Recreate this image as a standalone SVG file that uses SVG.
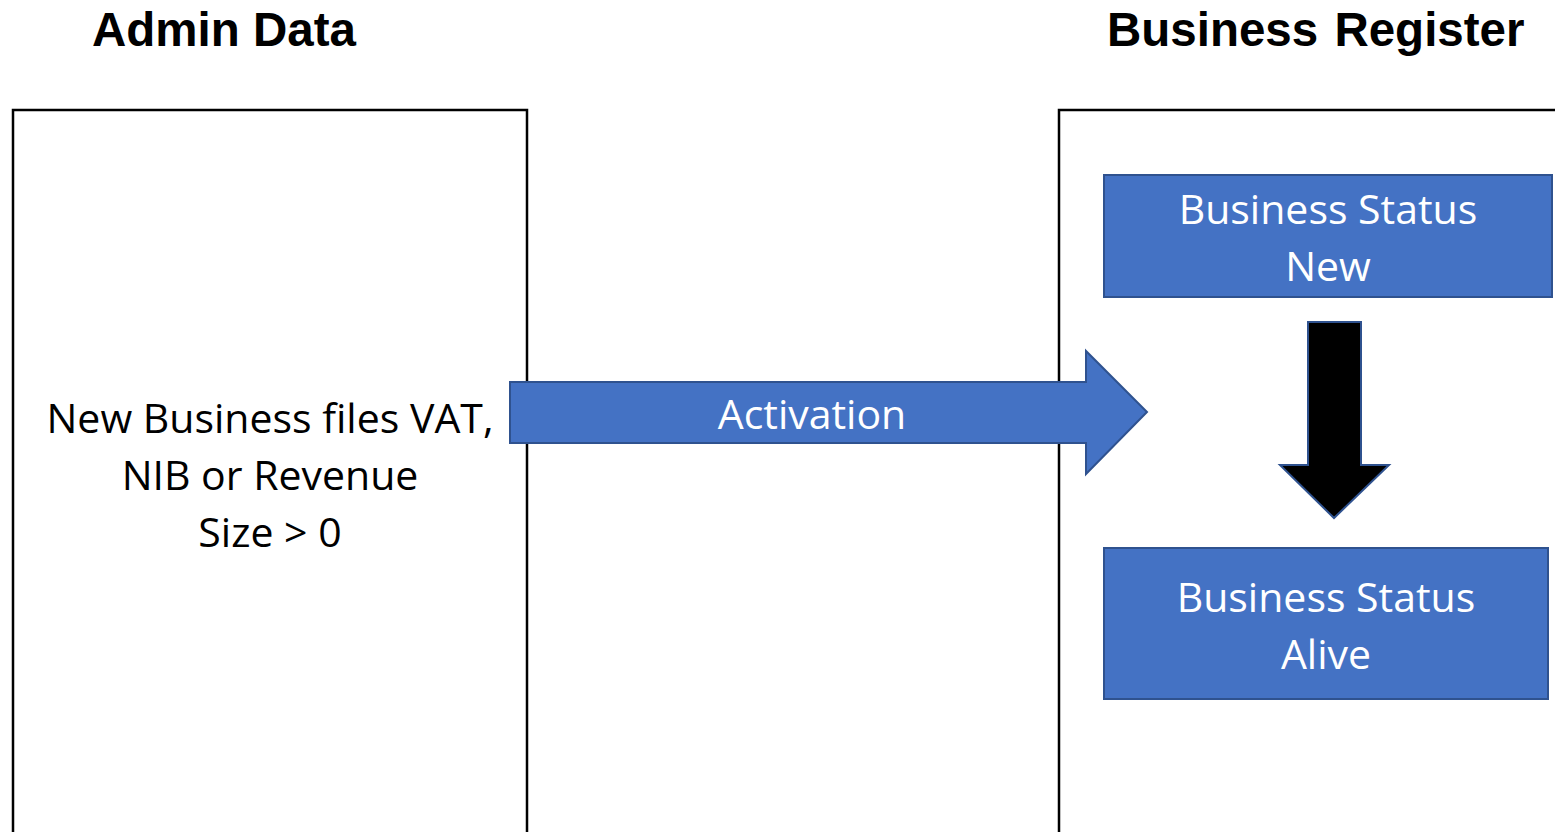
<svg xmlns="http://www.w3.org/2000/svg" width="1555" height="832" viewBox="0 0 1555 832">
<style>
.title{font-family:"Liberation Sans",Arial,sans-serif;font-weight:bold;font-size:47.5px;fill:#000}
.lbl{font-family:"Open Sans","Noto Sans",sans-serif;font-size:41px;text-anchor:middle}
.w{fill:#fff}
.k{fill:#000}
.frame{fill:#fff;stroke:#000;stroke-width:2.5}
.blue{fill:#4472c4;stroke:#2f528f;stroke-width:2}
</style>
<rect width="1555" height="832" fill="#fff"/>
<g id="admin">
<text class="title" x="92" y="46">Admin Data</text>
<rect class="frame" x="13" y="110" width="514" height="740"/>
<text class="lbl k" x="270" y="433">New Business files VAT,</text>
<text class="lbl k" x="270" y="490">NIB or Revenue</text>
<text class="lbl k" x="270" y="547">Size &gt; 0</text>
</g>
<g id="register">
<text class="title" x="1107" y="46" word-spacing="3">Business Register</text>
<rect class="frame" x="1059" y="110" width="520" height="740"/>
</g>
<g id="status-new">
<rect class="blue" x="1104" y="175" width="448" height="122"/>
<text class="lbl w" x="1328" y="224">Business Status</text>
<text class="lbl w" x="1328" y="281">New</text>
</g>
<g id="status-alive">
<rect class="blue" x="1104" y="548" width="444" height="151"/>
<text class="lbl w" x="1326" y="612">Business Status</text>
<text class="lbl w" x="1326" y="669">Alive</text>
</g>
<g id="connectors">
<g id="activation">
<path class="blue" d="M510 382 H1086 V351 L1147 412 L1086 474 V443 H510 Z"/>
<text class="lbl w" x="812" y="429">Activation</text>
</g>
<path d="M1308 322 H1361 V465 H1389 L1334 518 L1280 465 H1308 Z" fill="#000" stroke="#2f528f" stroke-width="2"/>
</g>
</svg>
